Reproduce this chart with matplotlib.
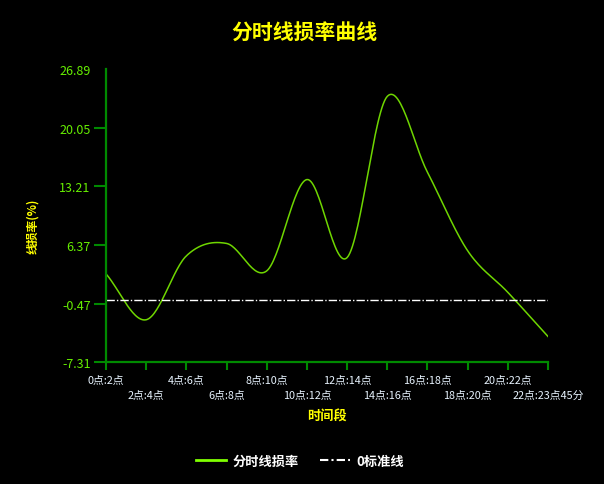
import numpy as np
import matplotlib
matplotlib.use("Agg")
import matplotlib.pyplot as plt
from matplotlib.lines import Line2D

plt.rcParams['font.family'] = ['Noto Sans CJK SC', 'DejaVu Sans']

# data
periods = ["0点:2点", "2点:4点", "4点:6点", "6点:8点", "8点:10点", "10点:12点",
           "12点:14点", "14点:16点", "16点:18点", "18点:20点", "20点:22点", "22点:23点45分"]
loss_rate = [3.0, -2.35, 5.1, 6.55, 3.35, 14.0, 4.9, 23.7, 14.85, 5.7, 0.85, -4.3]
baseline = [0] * len(periods)
y_ticks = [-7.31, -0.47, 6.37, 13.21, 20.05, 26.89]


def catmull_rom(y, n=30):
    # smooth curve through the points (drawing only)
    p = np.concatenate([[2 * y[0] - y[1]], y, [2 * y[-1] - y[-2]]])
    xs, ys = [], []
    for i in range(len(y) - 1):
        t = np.linspace(0, 1, n, endpoint=False)
        p0, p1, p2, p3 = p[i], p[i + 1], p[i + 2], p[i + 3]
        v = 0.5 * ((2 * p1) + (-p0 + p2) * t + (2 * p0 - 5 * p1 + 4 * p2 - p3) * t ** 2
                   + (-p0 + 3 * p1 - 3 * p2 + p3) * t ** 3)
        xs.append(i + t)
        ys.append(v)
    xs.append([len(y) - 1])
    ys.append([y[-1]])
    return np.concatenate(xs), np.concatenate(ys)


axis_green = '#008a00'
line_green = '#6fd600'

fig = plt.figure(figsize=(6.04, 4.85), dpi=100, facecolor='black')
ax = fig.add_axes([106 / 604, 1 - 363.3 / 485, 442 / 604, 293.3 / 485])
ax.set_facecolor('black')

x = np.arange(len(periods))
sx, sy = catmull_rom(np.array(loss_rate, dtype=float))
ax.plot(sx, sy, color=line_green, lw=1.1)
ax.plot(x, baseline, color='white', lw=1.0, ls=(0, (6, 1.5, 1, 1.5)))

ax.set_xlim(0, len(periods) - 1)
ax.set_ylim(y_ticks[0], y_ticks[-1])

for s in ['top', 'right']:
    ax.spines[s].set_visible(False)
for s in ['left', 'bottom']:
    ax.spines[s].set_color(axis_green)
    ax.spines[s].set_linewidth(1.6)

ax.set_yticks(y_ticks)
ax.set_yticklabels([f"{v:.2f}" for v in y_ticks])
ax.tick_params(axis='y', colors=axis_green, length=9, width=1.5, pad=2,
               labelcolor='#66ee00', labelsize=9)
ax.yaxis.get_major_ticks()[-1].tick1line.set_visible(False)

ax.set_xticks(x[::2])
ax.set_xticklabels(periods[::2])
ax.set_xticks(x[1::2], minor=True)
ax.set_xticklabels(periods[1::2], minor=True)
ax.tick_params(axis='x', which='both', colors=axis_green, length=6, width=1.5,
               labelcolor='#e8f4ff', labelsize=7.8)
ax.tick_params(axis='x', which='major', pad=3)
ax.tick_params(axis='x', which='minor', pad=14)

fig.text(304 / 604, 1 - 33 / 485, "分时线损率曲线", color='#ffff00', fontsize=15,
         fontweight='bold', ha='center', va='center')
fig.text(327 / 604, 1 - 417 / 485, "时间段", color='#ffff00', fontsize=9.5,
         fontweight='bold', ha='center', va='center')
fig.text(33 / 604, 1 - 226 / 485, "线损率(%)", color='#ffff00', fontsize=8.5,
         fontweight='bold', ha='center', va='center', rotation=90)

handles = [Line2D([], [], color='#7fff00', lw=2),
           Line2D([], [], color='white', lw=1.5, ls=(0, (4, 1.5, 1, 1.5)))]
leg = fig.legend(handles, ["分时线损率", "0标准线"], loc='center',
                 bbox_to_anchor=(300 / 604, 1 - 462 / 485), ncol=2, frameon=False,
                 handlelength=2.3, columnspacing=1.6, handletextpad=0.5,
                 prop={'size': 9.5, 'weight': 'bold'})
for t in leg.get_texts():
    t.set_color('white')

fig.savefig("out.png", dpi=100, facecolor='black')
